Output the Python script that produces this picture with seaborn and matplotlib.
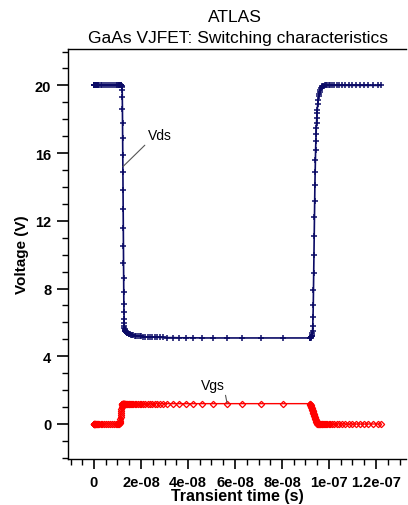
import matplotlib
matplotlib.use("Agg")
import matplotlib.pyplot as plt
from matplotlib.ticker import MultipleLocator
import seaborn as sns
import pandas as pd

# ---- data (time in ns, voltages in V) ----
t_ns = [0, 0.05, 0.1, 0.15, 0.2, 0.3, 0.4, 0.5, 0.6, 0.75, 0.9, 1.1, 1.3, 1.6,
        1.9, 2.3, 2.8, 3.4, 4.1, 4.9, 5.8, 6.8, 7.8, 8.7, 9.4, 9.9, 10.3, 10.6,
        10.8, 10.9, 11.0, 11.1, 11.2, 11.3, 11.4, 11.5, 11.6, 11.7, 11.8, 11.9, 12.0,
        12.05, 12.1, 12.15, 12.2, 12.25, 12.3, 12.35, 12.4, 12.45, 12.5, 12.55,
        12.6, 12.65, 12.7, 12.75, 12.8, 12.85, 12.9, 12.95, 13.0,
        13.1, 13.2, 13.35, 13.5, 13.7, 13.9, 14.1, 14.4, 14.7, 15.0, 15.4, 15.8,
        16.3, 16.8, 17.4, 18.0, 18.7, 19.4, 20.2, 21.0, 21.9, 22.8, 23.8, 24.8,
        25.9, 27.0, 28.2,
        29.4, 31.1, 33.6, 36.2, 39.1, 42.1, 46.0, 50.6, 56.6, 63.0, 71.1, 80.4, 91.9,
        92.0, 92.1, 92.2, 92.3, 92.4, 92.5, 92.6, 92.7, 92.8, 92.9, 93.0, 93.1,
        93.2, 93.3, 93.4, 93.5, 93.6, 93.7, 93.8, 93.9, 94.0, 94.1, 94.2, 94.3,
        94.4, 94.5, 94.6, 94.7, 94.8, 94.9, 95.0,
        95.2, 95.4, 95.6, 95.8, 96.0, 96.3, 96.6, 96.9, 97.2, 97.5, 97.9, 98.3,
        98.8, 99.3, 99.9, 100.6, 101.4, 102.3, 103.3, 104.4, 105.6, 106.9, 108.3,
        109.8, 111.4, 113.1, 114.9, 116.8, 118.8, 120.9, 122.0]

vds = [20, 20, 20, 20, 20, 20, 20, 20, 20, 20, 20, 20, 20, 20,
       20, 20, 20, 20, 20, 20, 20, 20, 20, 20, 20, 20, 20, 20,
       20, 20, 20, 20, 20, 20, 20, 20, 20, 20, 19.98, 19.9, 19.75,
       19.3, 18.6, 17.8, 16.9, 15.9, 14.9, 13.8, 12.7, 11.6, 10.5, 9.5,
       8.6, 7.8, 7.1, 6.6, 6.2, 5.95, 5.78, 5.66, 5.58,
       5.53, 5.5, 5.47, 5.44, 5.41, 5.39, 5.37, 5.35, 5.33, 5.31, 5.29, 5.27,
       5.25, 5.23, 5.21, 5.2, 5.19, 5.18, 5.17, 5.16, 5.15, 5.14, 5.13, 5.13,
       5.12, 5.12, 5.11,
       5.11, 5.1, 5.1, 5.09, 5.09, 5.09, 5.08, 5.08, 5.08, 5.08, 5.08, 5.08, 5.08,
       5.08, 5.09, 5.1, 5.11, 5.13, 5.15, 5.18, 5.22, 5.27, 5.35, 5.5, 5.8,
       6.3, 7.0, 7.9, 8.9, 10.0, 11.1, 12.2, 13.2, 14.1, 14.9, 15.6, 16.2,
       16.7, 17.1, 17.5, 17.8, 18.1, 18.35, 18.55,
       18.9, 19.15, 19.35, 19.5, 19.62, 19.75, 19.84, 19.9, 19.94, 19.96, 19.98, 20,
       20, 20, 20, 20, 20, 20, 20, 20, 20, 20, 20,
       20, 20, 20, 20, 20, 20, 20, 20]

vgs = [0, 0, 0, 0, 0, 0, 0, 0, 0, 0, 0, 0, 0, 0,
       0, 0, 0, 0, 0, 0, 0, 0, 0, 0, 0, 0, 0, 0.01,
       0.03, 0.06, 0.1, 0.18, 0.28, 0.4, 0.52, 0.64, 0.76, 0.88, 1.0, 1.1, 1.17,
       1.19, 1.2, 1.2, 1.2, 1.2, 1.2, 1.2, 1.2, 1.2, 1.2, 1.2,
       1.2, 1.2, 1.2, 1.2, 1.2, 1.2, 1.2, 1.2, 1.2,
       1.2, 1.2, 1.2, 1.2, 1.2, 1.2, 1.2, 1.2, 1.2, 1.2, 1.2, 1.2,
       1.2, 1.2, 1.2, 1.2, 1.2, 1.2, 1.2, 1.2, 1.2, 1.2, 1.2, 1.2,
       1.2, 1.2, 1.2,
       1.2, 1.2, 1.2, 1.2, 1.2, 1.2, 1.2, 1.2, 1.2, 1.2, 1.2, 1.2, 1.2,
       1.18, 1.14, 1.1, 1.06, 1.02, 0.98, 0.94, 0.9, 0.86, 0.82, 0.78, 0.74,
       0.7, 0.66, 0.62, 0.58, 0.54, 0.5, 0.46, 0.42, 0.38, 0.34, 0.3, 0.26,
       0.22, 0.18, 0.14, 0.1, 0.06, 0.03, 0.01,
       0, 0, 0, 0, 0, 0, 0, 0, 0, 0, 0, 0,
       0, 0, 0, 0, 0, 0, 0, 0, 0, 0, 0,
       0, 0, 0, 0, 0, 0, 0, 0]

x_ticks = [0, 2e-8, 4e-8, 6e-8, 8e-8, 1e-7, 1.2e-7]
x_tick_labels = ["0", "2e-08", "4e-08", "6e-08", "8e-08", "1e-07", "1.2e-07"]
y_ticks = [0, 4, 8, 12, 16, 20]

df = pd.DataFrame({"t": [v * 1e-9 for v in t_ns], "Vds": vds, "Vgs": vgs})

# ---- figure ----
sns.set_style("ticks")
plt.rcParams["font.family"] = ["Liberation Sans", "DejaVu Sans"]
plt.rcParams["text.color"] = "black"

fig = plt.figure(figsize=(4.08, 5.06), dpi=100)
ax = fig.add_axes([68 / 408, 1 - 460 / 506, (406 - 68) / 408, (460 - 50) / 506])

navy = "#0b0b66"
red = "#ff0000"
sns.lineplot(data=df, x="t", y="Vds", ax=ax, color=navy, lw=1.2, marker="+",
             markersize=5, markeredgewidth=1.1, markeredgecolor=navy,
             estimator=None, sort=False)
sns.lineplot(data=df, x="t", y="Vgs", ax=ax, color=red, lw=1.0, marker="D",
             markersize=3.2, markerfacecolor="none", markeredgewidth=0.9,
             markeredgecolor=red, estimator=None, sort=False)

ax.set_xlim((68 - 94) / 47 * 2e-8, (406 - 94) / 47 * 2e-8)
ax.set_ylim(-2.07, 22.15)

ax.set_xticks(x_ticks)
ax.set_xticklabels(x_tick_labels)
ax.set_yticks(y_ticks)
ax.set_yticklabels([str(v) for v in y_ticks])
ax.xaxis.set_minor_locator(MultipleLocator(5e-9))
ax.yaxis.set_minor_locator(MultipleLocator(1))

ax.tick_params(axis="both", which="major", direction="out", length=7, width=1.2,
               color="black", labelsize=10.5, labelcolor="black")
ax.tick_params(axis="x", which="major", pad=4.5)
ax.tick_params(axis="y", which="major", pad=4, length=8)
ax.tick_params(axis="both", which="minor", direction="out", length=4, width=1.0,
               color="black")
for lab in ax.get_xticklabels() + ax.get_yticklabels():
    lab.set_fontweight("bold")

ax.spines["right"].set_visible(False)
for s in ("left", "bottom", "top"):
    ax.spines[s].set_color("black")
    ax.spines[s].set_linewidth(1.0)

ax.set_xlabel("Transient time (s)", fontsize=11.5, fontweight="bold", labelpad=-1,
              color="black")
ax.set_ylabel("Voltage (V)", fontsize=11, fontweight="bold", labelpad=4,
              color="black")

# annotations
ax.annotate("Vds", xy=(1.23e-8, 15.2), xytext=(2.81e-8, 17.07),
            textcoords="data", ha="center", va="center", fontsize=10,
            color="black",
            arrowprops=dict(arrowstyle="-", color="#555555", lw=0.8,
                            relpos=(0, 0), shrinkA=0, shrinkB=0))
ax.annotate("Vgs", xy=(5.66e-8, 1.25), xytext=(5.06e-8, 2.3),
            textcoords="data", ha="center", va="center", fontsize=10,
            color="black",
            arrowprops=dict(arrowstyle="-", color="#555555", lw=0.8,
                            relpos=(1, 0), shrinkA=0, shrinkB=0))

fig.text(235 / 408, 1 - 17 / 506, "ATLAS", ha="center", va="center",
         fontsize=12.5, color="black")
fig.text(238 / 408, 1 - 38 / 506, "GaAs VJFET: Switching characteristics",
         ha="center", va="center", fontsize=12.5, color="black")

fig.savefig("out.png", dpi=100)
